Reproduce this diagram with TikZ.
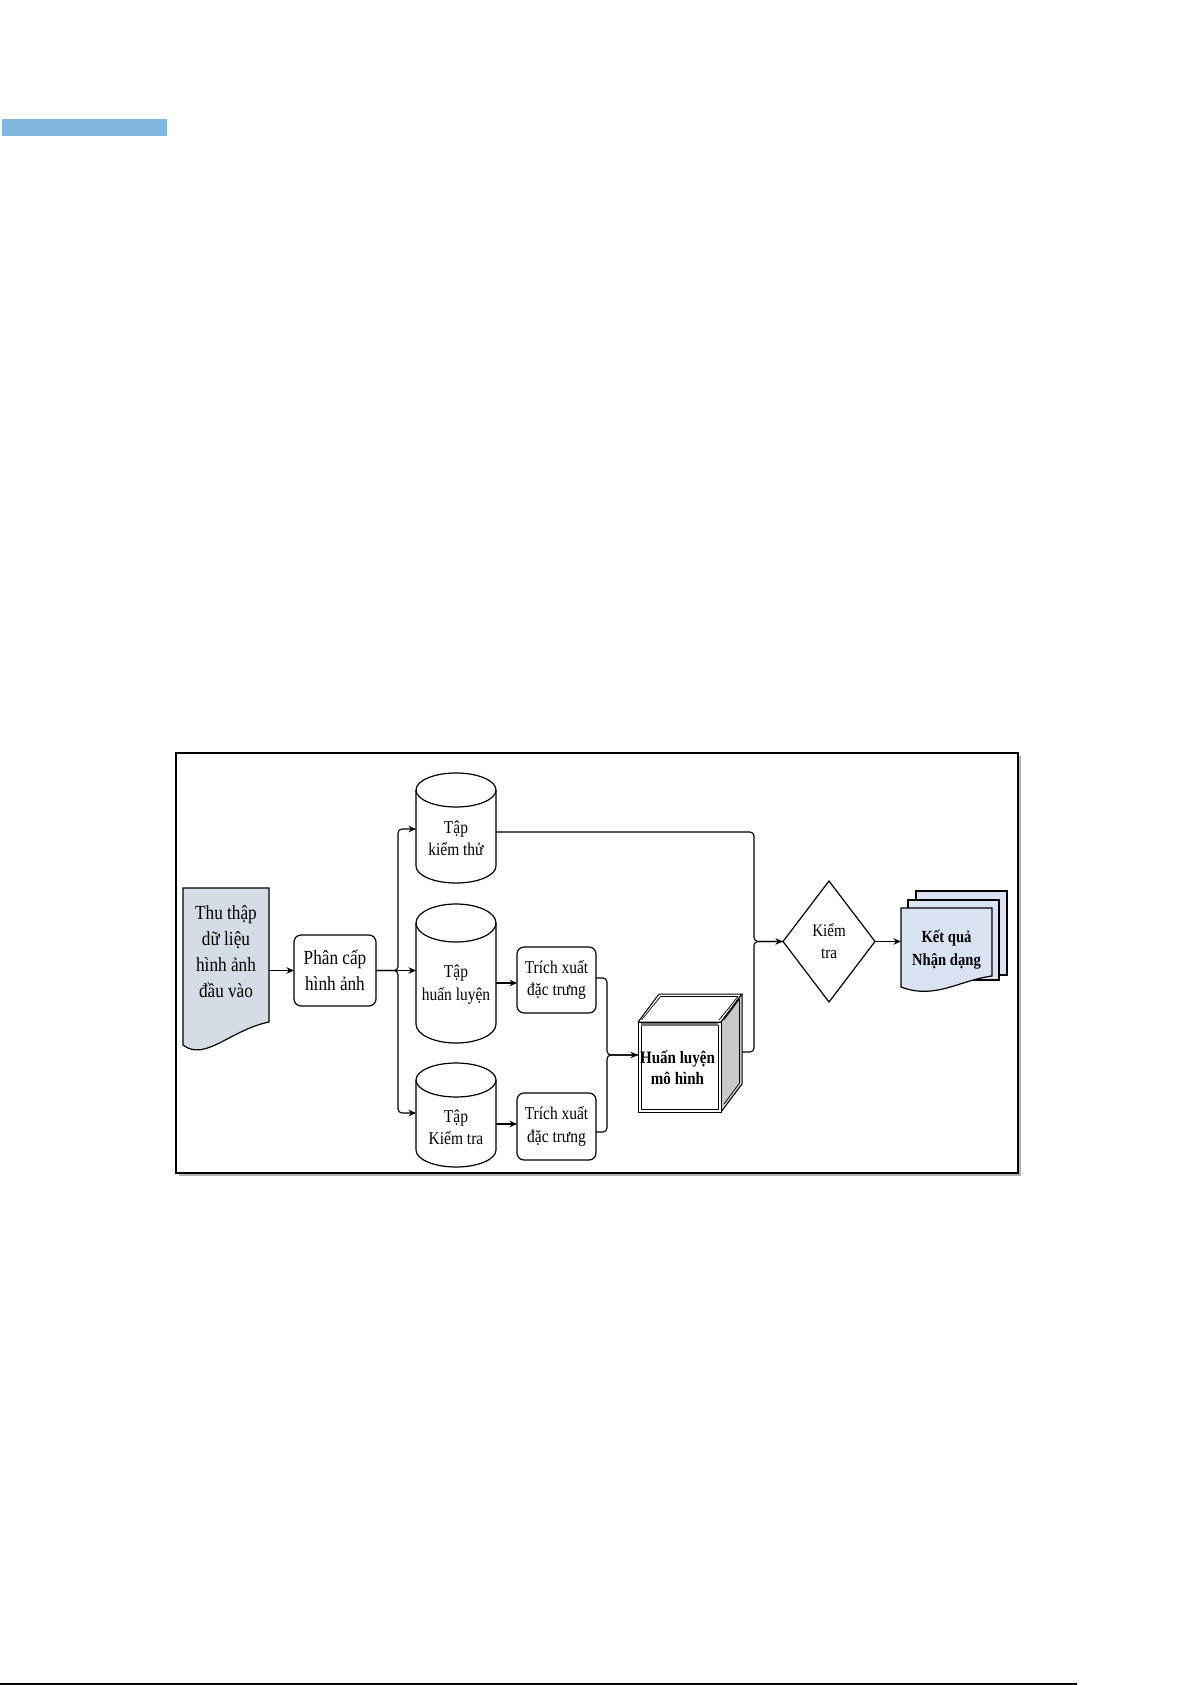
\documentclass[tikz,border=0pt]{standalone}
\usepackage{fontspec}
\setmainfont[FakeStretch=0.86]{Liberation Serif}
\usetikzlibrary{arrows.meta,shapes.geometric,shadows,calc}
\definecolor{barblue}{HTML}{80B6DF}
\definecolor{docfill}{HTML}{D6DCE5}
\definecolor{resfill}{HTML}{DAE3F3}
\definecolor{sidegray}{HTML}{C8C8C8}
\newcommand\mycyl[2]{%
  \draw[outline, fill=white] ($(#1.north west)+(0,#2)$) -- ($(#1.south west)+(0,-#2)$)
    arc[start angle=180, end angle=360, x radius=40pt, y radius=#2pt]
    -- ($(#1.north east)+(0,#2)$)
    arc[start angle=0, end angle=180, x radius=40pt, y radius=#2pt] -- cycle;
  \draw[outline] ($(#1.north west)+(0,#2)$)
    arc[start angle=180, end angle=360, x radius=40pt, y radius=#2pt];}
\begin{document}
\begin{tikzpicture}[x=1pt,y=-1pt,
  every node/.style={inner sep=0pt, outer sep=0pt},
  conn/.style={line width=1.1pt, rounded corners=4pt},
  arr/.style={conn, -{Stealth[length=7.5pt,width=6.5pt]}},
  txtA/.style={font=\fontsize{20}{26}\selectfont, align=center},
  txtB/.style={font=\fontsize{18}{22.5}\selectfont, align=center},
  boxr/.style={draw, line width=1.2pt, rounded corners=7pt},
  outline/.style={draw, line width=1.2pt},
  body/.style={minimum width=80pt},
  edge1/.style={draw=black, line width=1pt, line join=round},
  edge2/.style={draw=black, line width=0.7pt, line join=round},
]
\useasboundingbox (0,0) rectangle (1192,1685);
\fill[white] (0,0) rectangle (1192,1685);
\fill[barblue] (2,119) rectangle (167,136);
\draw[line width=1.5pt] (0,1684) -- (1077,1684);
% frame
\draw[line width=1.3pt, fill=white, drop shadow={shadow xshift=3pt, shadow yshift=-3pt, fill=black!50, opacity=0.6}] (176,753) rectangle (1018,1173);
% input document
\draw[outline, fill=docfill] (183,888) -- (269,888) -- (269,1022)
  .. controls (230,1030) and (205,1062) .. (183,1045) -- cycle;
\node[txtA, minimum width=86pt] (inp) at (226,952) {Thu thập\\dữ liệu\\hình ảnh\\đầu vào};
% Phan cap
\node[boxr, txtA, minimum width=82pt, minimum height=71pt] (pc) at (335,970.5) {Phân cấp\\hình ảnh};
% cylinders
\node[body, minimum height=110pt] (c1) at (456,828) {};
\mycyl{c1}{17}
\node[txtB] (c1t) at ($(c1.center)+(0,10.5)$) {Tập\\kiểm thử};
\node[body, minimum height=139pt] (c2) at (456,973.5) {};
\mycyl{c2}{19}
\node[txtB] (c2t) at ($(c2.center)+(0,11)$) {Tập\\huấn luyện};
\node[body, minimum height=104pt] (c3) at (456,1115) {};
\mycyl{c3}{17}
\node[txtB] (c3t) at ($(c3.center)+(0,12.5)$) {Tập\\Kiểm tra};
% feature extraction
\node[boxr, txtB, minimum width=79pt, minimum height=66pt] (t1) at (556.5,980) {Trích xuất\\đặc trưng};
\node[boxr, txtB, minimum width=79pt, minimum height=67pt] (t2) at (556.5,1126.5) {Trích xuất\\đặc trưng};
% cube (front face 638..721 x 1022..1112, depth 21 x 28)
\node[minimum width=83pt, minimum height=90pt] (hl) at (679.5,1067) {};
% top face
\filldraw[edge1, fill=white] (638,1022) -- (659,994) -- (742,994) -- (721,1022) -- cycle;
\draw[edge2] (641.5,1020) -- (660.5,996.5) -- (738,996.5) -- (719,1020);
% right face
\filldraw[edge1, fill=sidegray] (721,1022) -- (742,994) -- (742,1084) -- (721,1112) -- cycle;
\draw[edge2] (724,1020) -- (739.5,999) -- (739.5,1083) -- (724,1104);
% front face
\filldraw[edge1, fill=white] (638,1022) -- (721,1022) -- (721,1112) -- (638,1112) -- cycle;
\draw[edge2] (641,1025) -- (718,1025) -- (718,1109) -- (641,1109) -- cycle;
\fill[black!55] (641,1022.5) rectangle (718,1025.5);
\node[font=\bfseries\fontsize{17.5}{21}\selectfont, align=center] (hlt) at ($(hl.center)+(-2,0.5)$) {Huấn luyện\\mô hình};
% decision
\node[draw, line width=1.2pt, diamond, aspect=0.76, minimum width=92pt, minimum height=121pt,
  font=\fontsize{17.5}{22}\selectfont, align=center] (dia) at (829,941.5) {Kiểm\\tra};
% result stack
\draw[outline, fill=resfill] (916,891) rectangle (1007,975);
\draw[outline, fill=resfill] (908,900) rectangle (999,980);
\draw[outline, fill=resfill] (901,908) -- (992,908) -- (992,976)
  .. controls (960,980) and (935,1000) .. (901,987) -- cycle;
\node[font=\bfseries\fontsize{17}{23}\selectfont, align=center, minimum width=91pt] (res) at (946.5,949.5) {Kết quả\\Nhận dạng};
% connectors
\draw[arr] (inp.east |- pc.west) -- (pc.west);
\coordinate (bus) at (398,970.5);
\draw[arr] (pc.east) -- (bus) |- ([yshift=-1pt]c1.west);
\draw[arr] (pc.east) -- (c2.west |- pc.east);
\draw[arr] (pc.east) -- (bus) |- ([yshift=2pt]c3.west);
\draw[arr] ([yshift=-3pt]c2.east |- t1.west) -- ([yshift=-3pt]t1.west);
\draw[arr] ([yshift=2.5pt]c3.east |- t2.west) -- ([yshift=2.5pt]t2.west);
\coordinate (j) at (607,1055);
\draw[arr] ([yshift=2pt]t1.east) -| (j) -- (hl.west |- j);
\draw[conn] ([yshift=-5.5pt]t2.east) -| (j) -- (hl.west |- j);
\coordinate (m) at ($(dia.west)+(-29,0)$);
\draw[arr] ([yshift=-4pt]c1.east) -| (m) -- (dia.west);
\draw[conn] ($(hl.east)+(21,-15)$) -| (m) -- (dia.west);
\draw[arr] (dia.east) -- (res.west |- dia.east);
\end{tikzpicture}
\end{document}
